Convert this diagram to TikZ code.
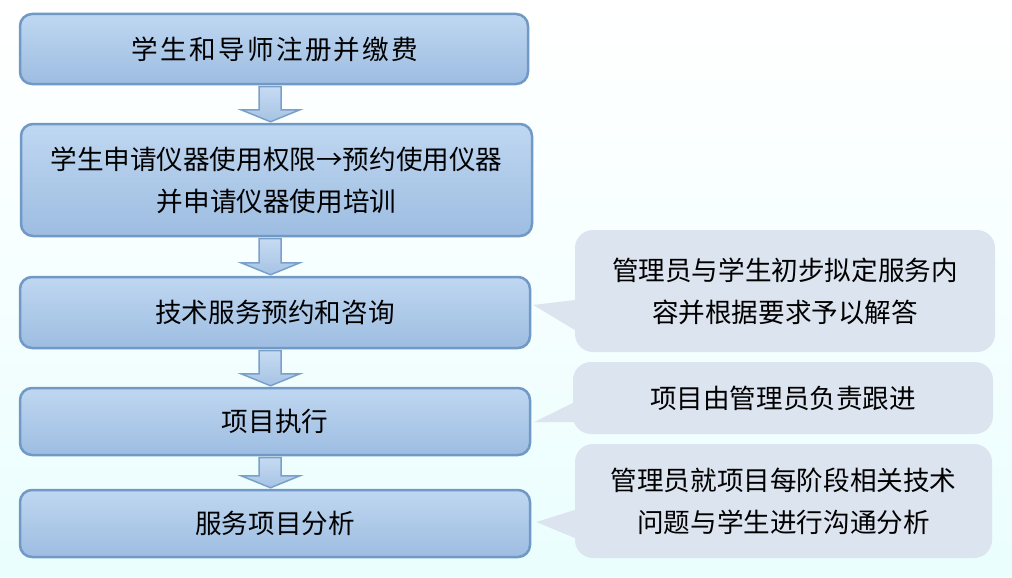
\documentclass[tikz,border=0pt]{standalone}
\usepackage{fontspec}
\newfontfamily\cjk{Noto Sans CJK SC}
\usetikzlibrary{calc}
\definecolor{boxtop}{RGB}{191,215,241}
\definecolor{boxbot}{RGB}{157,189,225}
\definecolor{boxline}{RGB}{112,153,198}
\definecolor{arrtop}{RGB}{198,219,242}
\definecolor{arrbot}{RGB}{166,195,228}
\definecolor{arrline}{RGB}{122,160,202}
\definecolor{calfill}{RGB}{220,228,239}
\definecolor{bgbot}{RGB}{234,254,254}
\newcommand\blkarrow[2]{%
  \path[blockarrow] let \p1=(#1.south), \p2=(#2.north) in
    (259pt,\y1-1.25pt) -- (281pt,\y1-1.25pt) -- (281pt,\y2+13pt) -- (300pt,\y2+13pt)
    -- (270.5pt,\y2+1pt) -- (241pt,\y2+13pt) -- (259pt,\y2+13pt) -- cycle;}
\begin{document}
\begin{tikzpicture}[x=1pt,y=-1pt,
  txt/.style={font=\cjk\fontsize{26.6}{42}\selectfont, text=black, align=center, inner sep=0pt},
  stepbox/.style={txt, draw=boxline, line width=2.5pt, rounded corners=12pt,
    top color=boxtop, bottom color=boxbot},
  callout/.style={txt, fill=calfill, rounded corners=18pt},
  blockarrow/.style={draw=arrline, line width=1.5pt, top color=arrtop, bottom color=arrbot, line join=miter}]
\useasboundingbox (0,0) rectangle (1012,578);
\shade[top color=white, bottom color=bgbot, middle color=white!55!bgbot] (0,0) rectangle (1012,578);

% flow boxes
\node[stepbox, minimum width=508pt, minimum height=70pt] (b1) at (274,49)
  {\addfontfeature{LetterSpace=8.5}\hspace*{2.2pt}学生和导师注册并缴费};
\node[stepbox, minimum width=511pt, minimum height=112pt] (b2) at (276.5,180)
  {\raisebox{-3pt}{学生申请仪器使用权限→预约使用仪器}\\\raisebox{-3pt}{并申请仪器使用培训}};
\node[stepbox, minimum width=510pt, minimum height=71pt] (b3) at (275,312.5) {技术服务预约和咨询};
\node[stepbox, minimum width=510pt, minimum height=67pt] (b4) at (275,421.5) {项目执行};
\node[stepbox, minimum width=510pt, minimum height=67pt] (b5) at (275,523.5) {服务项目分析};

% block arrows
\blkarrow{b1}{b2}
\blkarrow{b2}{b3}
\blkarrow{b3}{b4}
\blkarrow{b4}{b5}

% callouts
\node[callout, minimum width=420pt, minimum height=122pt] (c1) at (785,291)
  {管理员与学生初步拟定服务内\\容并根据要求予以解答};
\node[callout, minimum width=420pt, minimum height=72pt] (c2) at (783,398)
  {项目由管理员负责跟进};
\node[callout, minimum width=417pt, minimum height=114pt] (c3) at (783.5,501)
  {管理员就项目每阶段相关技术\\问题与学生进行沟通分析};

% callout pointers
\fill[calfill] ($(c1.west)+(0,9)$) -- ($(b3.east)+(2,-7.5)$) -- ($(c1.west)+(0,39)$)
  -- ($(c1.west)+(12,39)$) -- ($(c1.west)+(12,9)$) -- cycle;
\fill[calfill] ($(c2.west)+(0,5)$) -- ($(b4.east)+(3,0.5)$) -- ($(c2.west)+(0,24)$)
  -- ($(c2.west)+(12,24)$) -- ($(c2.west)+(12,5)$) -- cycle;
\fill[calfill] ($(c3.west)+(0,9)$) -- ($(b5.east)+(5,-1.5)$) -- ($(c3.west)+(0,37)$)
  -- ($(c3.west)+(12,37)$) -- ($(c3.west)+(12,9)$) -- cycle;
\end{tikzpicture}
\end{document}
